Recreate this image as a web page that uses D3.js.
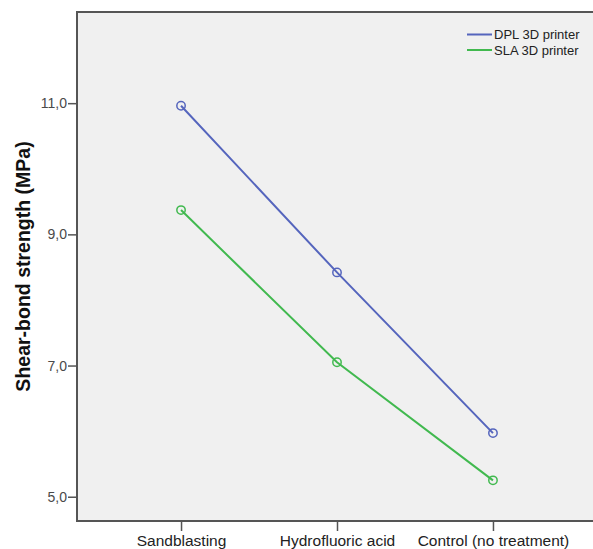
<!DOCTYPE html>
<html>
<head>
<meta charset="utf-8">
<script src="https://d3js.org/d3.v7.min.js"></script>
<style>
  html, body { margin: 0; padding: 0; background: #ffffff; }
  svg { display: block; }
</style>
</head>
<body>
<svg id="chart" width="593" height="549"></svg>
<script>
const categories = ["Sandblasting", "Hydrofluoric acid", "Control (no treatment)"];
const seriesNames = ["DPL 3D printer", "SLA 3D printer"];
const dplValues = [10.96, 8.42, 5.97];
const slaValues = [9.37, 7.05, 5.25];
const yTicks = [5, 7, 9, 11];
const yTitle = "Shear-bond strength (MPa)";
const colors = ["#5565bd", "#41b94f"];

(function () {
const svg = d3.select("#chart");
const pLeft = 77, pRight = 597, pTop = 12, pBottom = 521;

const x = d3.scalePoint().domain(categories).range([pLeft, pRight]).padding(0.667);
const y = d3.scaleLinear().domain([4.63, 12.39]).range([pBottom, pTop]);

// plot background + frame
svg.append("rect")
  .attr("x", pLeft).attr("y", pTop)
  .attr("width", pRight - pLeft + 10).attr("height", pBottom - pTop)
  .attr("fill", "#f0f0f0")
  .attr("stroke", "#555555")
  .attr("stroke-width", 2);

// y axis
const yAxis = svg.append("g")
  .attr("transform", `translate(${pLeft},0)`)
  .call(d3.axisLeft(y).tickValues(yTicks).tickSize(9).tickPadding(1)
    .tickFormat(d => d3.format(".1f")(d).replace(".", ",")));
yAxis.select(".domain").remove();
yAxis.selectAll("line").attr("stroke", "#555555").attr("stroke-width", 1.5);
yAxis.selectAll("text")
  .attr("fill", "#4a4a4a")
  .style("font-family", "'Liberation Sans', Arial, sans-serif")
  .style("font-size", "14px");

// x axis
const xAxis = svg.append("g")
  .attr("transform", `translate(0,${pBottom})`)
  .call(d3.axisBottom(x).tickSize(10).tickPadding(4));
xAxis.select(".domain").remove();
xAxis.selectAll("line").attr("stroke", "#555555").attr("stroke-width", 1.5);
xAxis.selectAll("text")
  .attr("fill", "#222222")
  .style("font-family", "'Liberation Sans', Arial, sans-serif")
  .style("font-size", "15.5px");

// y title
svg.append("text")
  .attr("transform", `translate(30,${(pTop + pBottom) / 2}) rotate(-90)`)
  .attr("text-anchor", "middle")
  .attr("fill", "#111111")
  .style("font-family", "'Liberation Sans', Arial, sans-serif")
  .style("font-weight", "bold")
  .style("font-size", "19.5px")
  .text(yTitle);

// series
const series = [
  { name: seriesNames[0], values: dplValues, color: colors[0] },
  { name: seriesNames[1], values: slaValues, color: colors[1] }
];

const line = d3.line()
  .x((d, i) => x(categories[i]))
  .y(d => y(d));

series.forEach(s => {
  svg.append("path")
    .datum(s.values)
    .attr("fill", "none")
    .attr("stroke", s.color)
    .attr("stroke-width", 2)
    .attr("d", line);
  svg.selectAll(null)
    .data(s.values)
    .enter().append("circle")
    .attr("cx", (d, i) => x(categories[i]))
    .attr("cy", d => y(d))
    .attr("r", 4.2)
    .attr("fill", "none")
    .attr("stroke", s.color)
    .attr("stroke-width", 1.5);
});

// legend
const legend = svg.append("g");
series.forEach((s, i) => {
  const yy = 34.5 + i * 15.5;
  legend.append("line")
    .attr("x1", 467).attr("x2", 492)
    .attr("y1", yy).attr("y2", yy)
    .attr("stroke", s.color).attr("stroke-width", 2);
  legend.append("text")
    .attr("x", 494).attr("y", yy + 4.5)
    .attr("fill", "#222222")
    .style("font-family", "'Liberation Sans', Arial, sans-serif")
    .style("font-size", "13px")
    .text(s.name);
});
})();
</script>
</body>
</html>
